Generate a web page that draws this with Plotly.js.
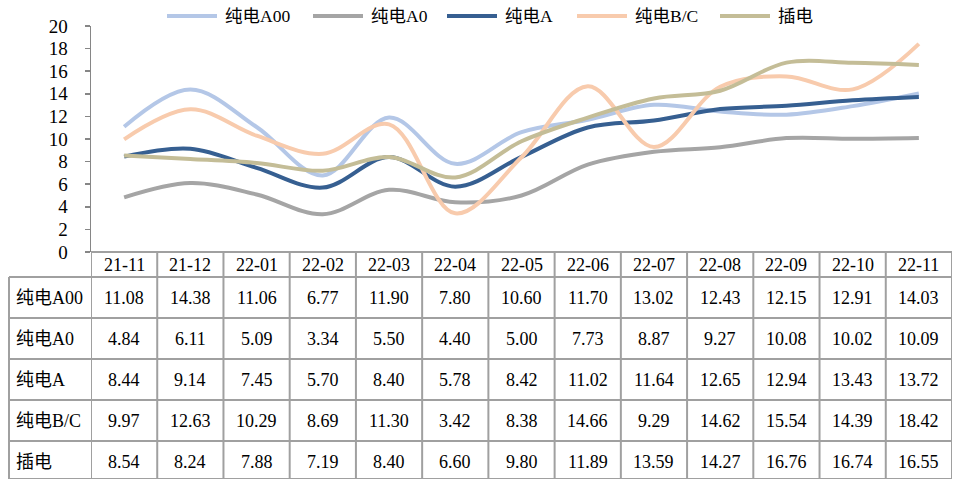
<!DOCTYPE html>
<html><head><meta charset="utf-8">
<script src="https://cdn.plot.ly/plotly-3.0.1.min.js"></script>
<style>html,body{margin:0;padding:0;background:#fff}#c{width:955px;height:479px}</style>
</head><body><div id="c"></div>
<script>
const categories = ["21-11","21-12","22-01","22-02","22-03","22-04","22-05","22-06","22-07","22-08","22-09","22-10","22-11"];
const seriesNames = ["纯电A00","纯电A0","纯电A","纯电B/C","插电"];
const a00 = [11.08,14.38,11.06,6.77,11.90,7.80,10.60,11.70,13.02,12.43,12.15,12.91,14.03];
const a0  = [4.84,6.11,5.09,3.34,5.50,4.40,5.00,7.73,8.87,9.27,10.08,10.02,10.09];
const aa  = [8.44,9.14,7.45,5.70,8.40,5.78,8.42,11.02,11.64,12.65,12.94,13.43,13.72];
const bc  = [9.97,12.63,10.29,8.69,11.30,3.42,8.38,14.66,9.29,14.62,15.54,14.39,18.42];
const phev= [8.54,8.24,7.88,7.19,8.40,6.60,9.80,11.89,13.59,14.27,16.76,16.74,16.55];
const yTicks = [0,2,4,6,8,10,12,14,16,18,20];

const series = [a00,a0,aa,bc,phev];
const colors = ["#B4C7E7","#A5A5A5","#365F91","#F8CBAD","#C4BD97"];
const FONT = "'Liberation Serif','Noto Sans CJK SC',serif";

const W = 955, L = 91, R = 3, T = 26, B = 227;
const plotW = W - L - R, plotH = 479 - T - B;
const py = p => (252 - p) / plotH;      // pixel y -> paper y
const px = p => (p - L) / plotW;        // pixel x -> paper x

const traces = series.map((s,i)=>({
  x: categories.map((c,j)=>j), y: s, type:'scatter', mode:'lines', name: seriesNames[i],
  line:{color:colors[i], width:4, shape:'spline', smoothing:1}, showlegend:false, hoverinfo:'skip'
}));

const shapes = [], annotations = [];
const gridColor = "#A0A0A0";
// row boundaries in pixels
const headerTop = 252, headerBot = 277, rowH = 41;
const rowTops = [277,318,359,400,441];
// header top line
shapes.push({type:'line', xref:'paper', yref:'paper', x0:0, x1:1, y0:py(headerTop), y1:py(headerTop), line:{color:gridColor,width:2}});
// horizontal lines
[headerBot,318,359,400,441].forEach(p=>{
  shapes.push({type:'line', xref:'paper', yref:'paper', x0:px(9), x1:1, y0:py(p), y1:py(p), line:{color:gridColor,width:2}});
});
// bottom line
shapes.push({type:'line', xref:'paper', yref:'paper', x0:px(9), x1:1, y0:py(479), y1:py(479), line:{color:gridColor,width:2}});
// vertical column lines
for (let i=0;i<=categories.length;i++){
  shapes.push({type:'line', xref:'x', yref:'paper', x0:i-0.5, x1:i-0.5, y0:py(headerTop), y1:py(479), line:{color:gridColor,width:2}});
}
// left label column border
shapes.push({type:'line', xref:'paper', yref:'paper', x0:px(9), x1:px(9), y0:py(headerBot), y1:py(479), line:{color:gridColor,width:2}});

// header labels
categories.forEach((c,j)=>{
  annotations.push({xref:'x', yref:'paper', x:j, y:py((headerTop+headerBot)/2), text:c, showarrow:false,
    font:{family:FONT,size:18,color:'#000'}, xanchor:'center', yanchor:'middle'});
});
// rows
series.forEach((s,i)=>{
  const cy = py(rowTops[i] + rowH/2);
  annotations.push({xref:'paper', yref:'paper', x:px(14), y:cy, text:seriesNames[i], showarrow:false,
    font:{family:FONT,size:18,color:'#000'}, xanchor:'left', yanchor:'middle'});
  s.forEach((v,j)=>{
    annotations.push({xref:'x', yref:'paper', x:j, y:cy, text:v.toFixed(2), showarrow:false,
      font:{family:FONT,size:18,color:'#000'}, xanchor:'center', yanchor:'middle'});
  });
});

// legend (manual)
const legX = [167,313,447,577,720];
seriesNames.forEach((n,i)=>{
  shapes.push({type:'line', xref:'paper', yref:'paper', x0:px(legX[i]), x1:px(legX[i]+50), y0:py(16), y1:py(16), line:{color:colors[i],width:4}});
  annotations.push({xref:'paper', yref:'paper', x:px(legX[i]+56), y:py(16), text:n, showarrow:false,
    font:{family:FONT,size:17.5,color:'#000'}, xanchor:'left', yanchor:'middle'});
});

const layout = {
  width:W, height:479, margin:{l:L, r:R, t:T, b:B, pad:0},
  paper_bgcolor:'#fff', plot_bgcolor:'#fff', showlegend:false,
  xaxis:{range:[-0.5,categories.length-0.5], showticklabels:false, showgrid:false, zeroline:false, showline:false, ticks:'', fixedrange:true},
  yaxis:{range:[0,20], tickvals:yTicks, ticktext:yTicks.map(String), showgrid:false, zeroline:false,
    showline:true, linecolor:'#868686', linewidth:1.5, ticks:'outside', ticklen:5, tickcolor:'#868686', tickwidth:1.5,
    ticklabelstandoff:13, tickfont:{family:FONT,size:19,color:'#000'}, fixedrange:true},
  shapes, annotations
};
Plotly.newPlot('c', traces, layout, {displayModeBar:false, staticPlot:true});
</script></body></html>
